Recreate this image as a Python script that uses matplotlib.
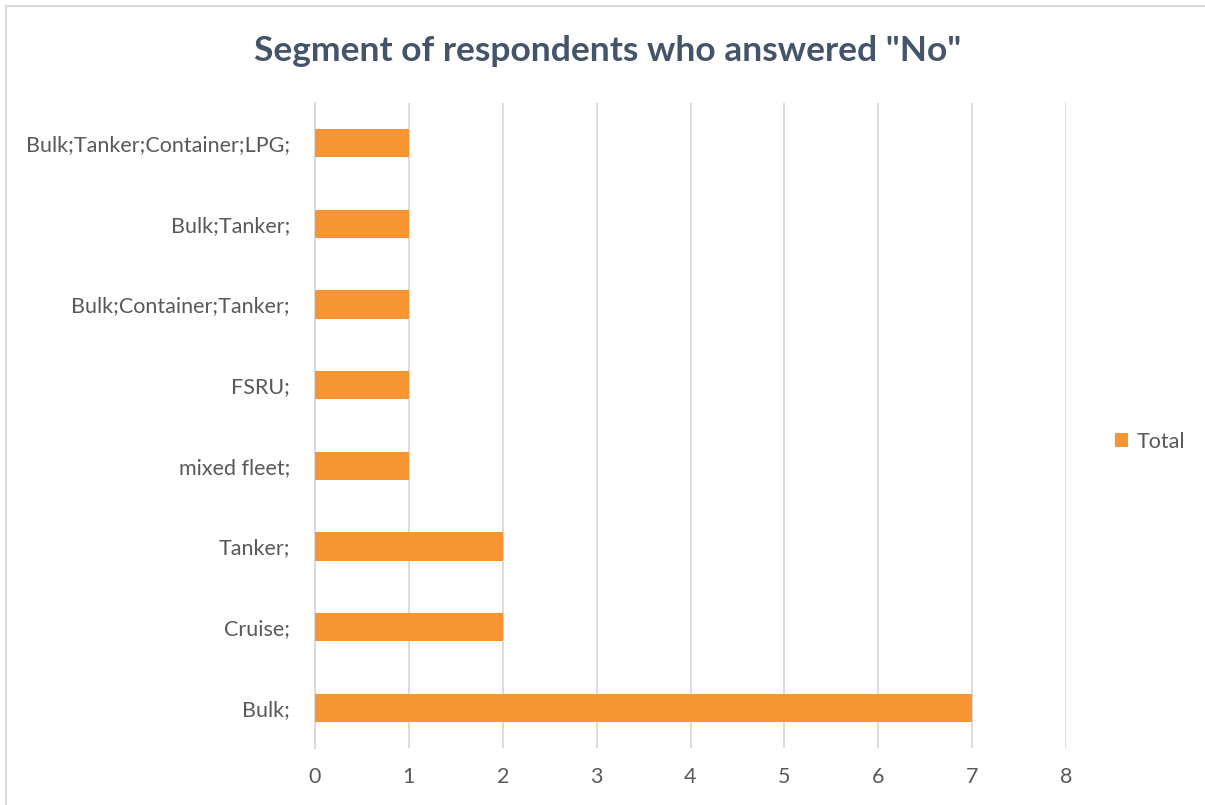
import matplotlib.pyplot as plt
from matplotlib.lines import Line2D

# Segment counts, bottom to top as drawn
segments = ['Bulk;', 'Cruise;', 'Tanker;', 'mixed fleet;', 'FSRU;',
            'Bulk;Container;Tanker;', 'Bulk;Tanker;', 'Bulk;Tanker;Container;LPG;']
totals = [7, 2, 2, 1, 1, 1, 1, 1]
x_ticks = [0, 1, 2, 3, 4, 5, 6, 7, 8]

bar_color = '#F79433'
grid_color = '#D9D9D9'
text_color = '#595959'
title_color = '#44546A'

plt.rcParams['font.family'] = ['Lato', 'DejaVu Sans']

fig = plt.figure(figsize=(12.05, 8.05), dpi=100)
ax = fig.add_axes([315 / 1205, 1 - 748 / 805, (1066 - 315) / 1205, (748 - 103) / 805])

ax.barh(range(len(segments)), totals, height=0.35, color=bar_color, label='Total', zorder=3)
ax.set_yticks(range(len(segments)))
ax.set_yticklabels(segments)
ax.set_ylim(-0.5, len(segments) - 0.5)
ax.set_xlim(0, 8)
ax.set_xticks(x_ticks)

ax.grid(axis='x', color=grid_color, linewidth=1.3, zorder=0)
for side in ['top', 'right', 'bottom']:
    ax.spines[side].set_visible(False)
ax.spines['left'].set_color(grid_color)
ax.spines['left'].set_linewidth(1.3)
ax.tick_params(axis='both', length=0, colors=text_color, labelsize=15.5)
ax.tick_params(axis='y', pad=18)
ax.tick_params(axis='x', pad=14)

fig.text(608 / 1205, 1 - 51 / 805, 'Segment of respondents who answered "No"',
         ha='center', va='center', fontsize=25.5, fontweight='bold', color=title_color)

ax.legend(loc='center left', bbox_to_anchor=(1.04, 0.475), frameon=False,
          fontsize=15.5, labelcolor=text_color, handlelength=0.6, handleheight=0.6,
          handletextpad=0.4)

# light frame edges along the top and left of the chart area
top = 1 - 6 / 805
left = 6 / 1205
fig.add_artist(Line2D([left, 1], [top, top], transform=fig.transFigure,
                      color=grid_color, linewidth=1.5))
fig.add_artist(Line2D([left, left], [0, top], transform=fig.transFigure,
                      color=grid_color, linewidth=1.5))

fig.savefig('out.png', dpi=100)
